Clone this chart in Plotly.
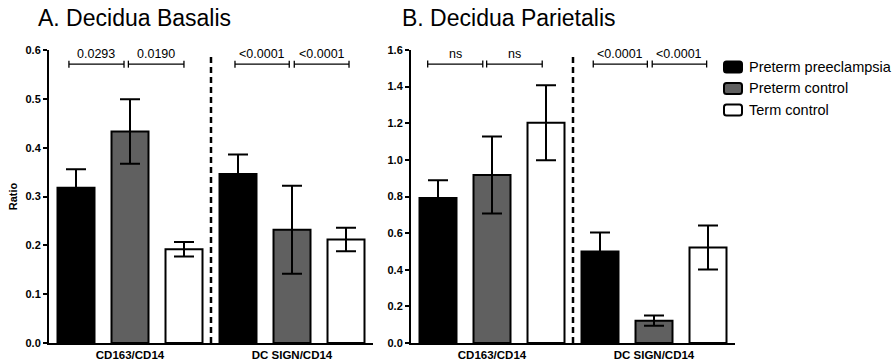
import plotly.graph_objects as go

# ---------------- data ----------------
categories = ["CD163/CD14", "DC SIGN/CD14"]
series_names = ["Preterm preeclampsia", "Preterm control", "Term control"]
series_colors = ["#000000", "#606060", "#ffffff"]

basalis_pe = [0.318, 0.346]
basalis_pe_err = [0.038, 0.040]
basalis_pc = [0.433, 0.232]
basalis_pc_err = [0.066, 0.090]
basalis_tc = [0.192, 0.212]
basalis_tc_err = [0.015, 0.024]

parietalis_pe = [0.792, 0.500]
parietalis_pe_err = [0.097, 0.103]
parietalis_pc = [0.917, 0.122]
parietalis_pc_err = [0.210, 0.028]
parietalis_tc = [1.203, 0.522]
parietalis_tc_err = [0.205, 0.120]

basalis_pvals = ["0.0293", "0.0190", "<0.0001", "<0.0001"]
parietalis_pvals = ["ns", "ns", "<0.0001", "<0.0001"]

panel_titles = ["A. Decidua Basalis", "B. Decidua Parietalis"]
y_title = "Ratio"

# ---------------- layout constants ----------------
W, H = 896, 363
FONT = "Liberation Sans, Arial, Helvetica, sans-serif"
ML, MR, MT, MB = 0, 0, 50, 20
plot_h = H - MT - MB

# bracket extents (category units) and heights
basalis_brackets = [(-0.377, -0.037), (-0.010, 0.333), (0.648, 0.983), (1.014, 1.352)]
parietalis_brackets = [(-0.397, -0.057), (-0.033, 0.310), (0.625, 0.959), (0.989, 1.325)]
basalis_bracket_y = 0.571
parietalis_bracket_y = 1.523
basalis_dash_top = 0.594
parietalis_dash_top = 1.578

fig = go.Figure()

panels = [
    ("x", "y", [basalis_pe, basalis_pc, basalis_tc],
     [basalis_pe_err, basalis_pc_err, basalis_tc_err]),
    ("x2", "y2", [parietalis_pe, parietalis_pc, parietalis_tc],
     [parietalis_pe_err, parietalis_pc_err, parietalis_tc_err]),
]

for xa, ya, vals, errs in panels:
    for name, color, v, e in zip(series_names, series_colors, vals, errs):
        fig.add_trace(go.Bar(
            x=categories, y=v, name=name, xaxis=xa, yaxis=ya,
            marker=dict(color=color, line=dict(color="black", width=2)),
            error_y=dict(type="data", array=e, color="black", thickness=2, width=10),
            showlegend=False,
        ))

fig.update_layout(
    width=W, height=H,
    margin=dict(l=ML, r=MR, t=MT, b=MB),
    paper_bgcolor="white", plot_bgcolor="white",
    barmode="group", bargap=0.0, bargroupgap=0.315,
    font=dict(family=FONT, color="black"),
    showlegend=False,
    xaxis=dict(domain=[49 / W, 373 / W], range=[-0.5, 1.5], showline=True, linewidth=2,
               linecolor="black", ticks="", showgrid=False, zeroline=False,
               tickfont=dict(size=11.5, weight="bold", family=FONT), anchor="y"),
    xaxis2=dict(domain=[411 / W, 735 / W], range=[-0.5, 1.5], showline=True, linewidth=2,
                linecolor="black", ticks="", showgrid=False, zeroline=False,
                tickfont=dict(size=11.5, weight="bold", family=FONT), anchor="y2"),
    yaxis=dict(domain=[0, 1], range=[0, 0.6], dtick=0.1, tickformat=".1f", showline=True,
               linewidth=2, linecolor="black", ticks="outside", ticklen=4, tickwidth=1.5,
               tickcolor="black", showgrid=False, zeroline=False,
               tickfont=dict(size=11, weight="bold", family=FONT), anchor="x",
               title=dict(text=y_title, font=dict(size=11, weight="bold", family=FONT), standoff=6)),
    yaxis2=dict(domain=[0, 1], range=[0, 1.6], dtick=0.2, tickformat=".1f", showline=True,
                linewidth=2, linecolor="black", ticks="outside", ticklen=4, tickwidth=1.5,
                tickcolor="black", showgrid=False, zeroline=False,
                tickfont=dict(size=11, weight="bold", family=FONT), anchor="x2"),
)

shapes = []
annotations = []

# dashed separators
for xr, yr, top in [("x", "y", basalis_dash_top), ("x2", "y2", parietalis_dash_top)]:
    shapes.append(dict(type="line", xref=xr, yref=yr, x0=0.5, x1=0.5, y0=0, y1=top,
                       line=dict(color="black", width=2.5, dash="6px,4px")))

# significance brackets
for xr, yr, brackets, by, labels in [("x", "y", basalis_brackets, basalis_bracket_y, basalis_pvals),
                                     ("x2", "y2", parietalis_brackets, parietalis_bracket_y, parietalis_pvals)]:
    for (b0, b1), lab in zip(brackets, labels):
        shapes.append(dict(type="line", xref=xr, yref=yr, x0=b0, x1=b1, y0=by, y1=by,
                           line=dict(color="black", width=1.3)))
        for bx in (b0, b1):
            shapes.append(dict(type="line", xref=xr, yref=yr, x0=bx, x1=bx,
                               ysizemode="pixel", yanchor=by, y0=-3.5, y1=3.5,
                               line=dict(color="black", width=1.3)))
        annotations.append(dict(x=(b0 + b1) / 2, y=by, xref=xr, yref=yr, text=lab,
                                showarrow=False, yanchor="middle", yshift=10,
                                font=dict(size=12.5, family=FONT, color="black")))

# panel titles
for tx, t in zip([38, 402], panel_titles):
    annotations.append(dict(x=tx / W, y=(H - MB - 18) / plot_h, xref="paper", yref="paper",
                            text=t, showarrow=False, xanchor="left", yanchor="middle",
                            xshift=-2, font=dict(size=23, family=FONT, color="black")))

# legend (custom)
swatch_path = ("M -6.5,-5.5 L 6.5,-5.5 Q 9,-5.5 9,-3 L 9,3 Q 9,5.5 6.5,5.5 "
               "L -6.5,5.5 Q -9,5.5 -9,3 L -9,-3 Q -9,-5.5 -6.5,-5.5 Z")
for i, (name, color) in enumerate(zip(series_names, series_colors)):
    ypx = 67 + 21.5 * i
    yp = (H - MB - ypx) / plot_h
    shapes.append(dict(type="path", xref="paper", yref="paper",
                       xsizemode="pixel", ysizemode="pixel",
                       xanchor=733 / W, yanchor=yp, path=swatch_path,
                       fillcolor=color, line=dict(color="black", width=2)))
    annotations.append(dict(x=749 / W, y=yp, xref="paper", yref="paper", text=name,
                            showarrow=False, xanchor="left", yanchor="middle", xshift=-2,
                            font=dict(size=14.5, family=FONT, color="black")))

fig.update_layout(shapes=shapes, annotations=annotations)

fig.write_html("out.html", config={"displayModeBar": False},
               post_script="document.body.style.margin='0';document.body.style.overflow='hidden';")
